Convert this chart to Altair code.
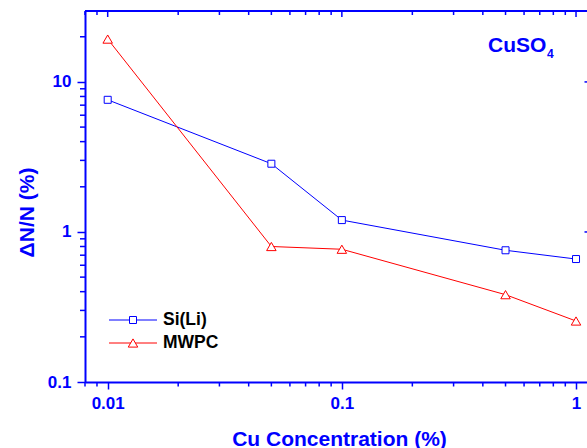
import altair as alt
import pandas as pd

# ---------------- data ----------------
conc = [0.01, 0.05, 0.1, 0.5, 1.0]
si_li = [7.6, 2.85, 1.2, 0.755, 0.66]
mwpc = [19.3, 0.80, 0.767, 0.382, 0.255]
series_names = ["Si(Li)", "MWPC"]
series_colors = ["#0000ff", "#ff0000"]
series_shapes = ["square", "triangle-up"]

x_major = [0.01, 0.1, 1]
x_minor = [0.008, 0.009, 0.02, 0.03, 0.04, 0.05, 0.06, 0.07, 0.08, 0.09,
           0.2, 0.3, 0.4, 0.5, 0.6, 0.7, 0.8, 0.9]
y_major = [0.1, 1, 10]
y_minor = [0.2, 0.3, 0.4, 0.5, 0.6, 0.7, 0.8, 0.9,
           2, 3, 4, 5, 6, 7, 8, 9, 20]
right_ticks = [1, 10]
x_domain = [0.008, 1.114]
y_domain = [0.1, 29.7]

x_title = "Cu Concentration (%)"
y_title = "ΔN/N (%)"
annot_main = ["CuSO"]
annot_sub = ["4"]

BLUE = "#0000ff"
FONT = "Liberation Sans"
W, H = 502, 371

df = pd.DataFrame({
    "conc": conc * 2,
    "value": si_li + mwpc,
    "series": [s for s in series_names for _ in conc],
})

xs = alt.Scale(type="log", domain=x_domain, nice=False)
ys = alt.Scale(type="log", domain=y_domain, nice=False)

x_axis = alt.Axis(
    values=x_major, format="~g", title=x_title, tickSize=7, labelPadding=6,
    titleX=254, titleY=63, titleAlign="center", titleBaseline="alphabetic")
y_axis = alt.Axis(
    values=y_major, format="~g", title=y_title, tickSize=8, labelPadding=6,
    titleAngle=270, titleX=-52, titleY=201, titleAlign="center",
    titleBaseline="alphabetic")

x_enc = alt.X("conc:Q", scale=xs, axis=x_axis)
y_enc = alt.Y("value:Q", scale=ys, axis=y_axis)

color_enc = alt.Color("series:N", scale=alt.Scale(domain=series_names, range=series_colors), legend=None)
shape_enc = alt.Shape("series:N", scale=alt.Scale(domain=series_names, range=series_shapes), legend=None)
size_enc = alt.condition(alt.datum.series == series_names[0], alt.value(49), alt.value(90))

lines = alt.Chart(df).mark_line(strokeWidth=1).encode(x=x_enc, y=y_enc, color=color_enc)
points = alt.Chart(df).mark_point(filled=False, fill="white", strokeWidth=1, opacity=1).encode(
    x=x_enc, y=y_enc, color=color_enc, shape=shape_enc, size=size_enc)

# ---------- frame & minor ticks ----------
one = pd.DataFrame({"k": [0]})
frame_top = alt.Chart(one).mark_rule(color=BLUE, strokeWidth=2).encode(
    x=alt.value(0), x2=alt.value(W), y=alt.value(0))

def vdf(vals):
    return pd.DataFrame({"v": vals})

xv = alt.X("v:Q", scale=xs, axis=x_axis)
yv = alt.Y("v:Q", scale=ys, axis=y_axis)

tick_mark = dict(color=BLUE, strokeWidth=1.5)
left_minor = alt.Chart(vdf(y_minor)).mark_rule(**tick_mark).encode(
    y=yv, x=alt.value(-5), x2=alt.value(0))
bottom_minor = alt.Chart(vdf(x_minor)).mark_rule(**tick_mark).encode(
    x=xv, y=alt.value(H), y2=alt.value(H + 4.5))
top_major = alt.Chart(vdf(x_major)).mark_rule(**tick_mark).encode(
    x=xv, y=alt.value(0), y2=alt.value(6))
top_minor = alt.Chart(vdf(x_minor)).mark_rule(**tick_mark).encode(
    x=xv, y=alt.value(0), y2=alt.value(4))
right_major = alt.Chart(vdf(right_ticks)).mark_rule(**tick_mark).encode(
    y=yv, x=alt.value(W - 2.5), x2=alt.value(W))

# ---------- annotation ----------
cuso = alt.Chart(pd.DataFrame({"t": annot_main})).mark_text(
    align="left", baseline="alphabetic", font=FONT, fontSize=21, fontWeight="bold", color=BLUE
).encode(x=alt.value(403), y=alt.value(41), text="t:N")
sub4 = alt.Chart(pd.DataFrame({"t": annot_sub})).mark_text(
    align="left", baseline="alphabetic", font=FONT, fontSize=12, fontWeight="bold", color=BLUE
).encode(x=alt.value(462), y=alt.value(47), text="t:N")

# ---------- legend ----------
leg_df = pd.DataFrame({"series": series_names})
yleg = alt.Y("series:N", scale=alt.Scale(type="point", domain=series_names, range=[309, 332], padding=0), axis=None)
leg_rule = alt.Chart(leg_df).mark_rule(strokeWidth=1).encode(
    x=alt.value(24), x2=alt.value(72), y=yleg, color=color_enc)
leg_pt = alt.Chart(leg_df).mark_point(filled=False, fill="white", strokeWidth=1, opacity=1).encode(
    x=alt.value(48), y=yleg, color=color_enc, shape=shape_enc, size=size_enc)
leg_txt = alt.Chart(leg_df).mark_text(
    align="left", baseline="middle", font=FONT, fontSize=17.5, fontWeight="bold", color="black"
).encode(x=alt.value(78), y=yleg, text="series:N")
legend = alt.layer(leg_rule, leg_pt, leg_txt)

main = alt.layer(lines, points, frame_top, left_minor, bottom_minor, top_major, top_minor,
                 right_major, cuso, sub4)

chart = alt.layer(main, legend).resolve_scale(y="independent").properties(
    width=W, height=H,
    padding={"left": 85, "top": 11, "right": 0, "bottom": 66},
    autosize=alt.AutoSizeParams(type="none"),
    background="white",
).configure_view(stroke=None).configure_axis(
    domainColor=BLUE, domainWidth=2, tickColor=BLUE, tickWidth=1.5,
    labelColor=BLUE, labelFont=FONT, labelFontSize=17, labelFontWeight="bold",
    titleColor=BLUE, titleFont=FONT, titleFontSize=21, titleFontWeight="bold",
    grid=False, labelFlush=False, labelOverlap=False,
)

chart.save("out.html", embed_options={"renderer": "svg", "actions": False})
